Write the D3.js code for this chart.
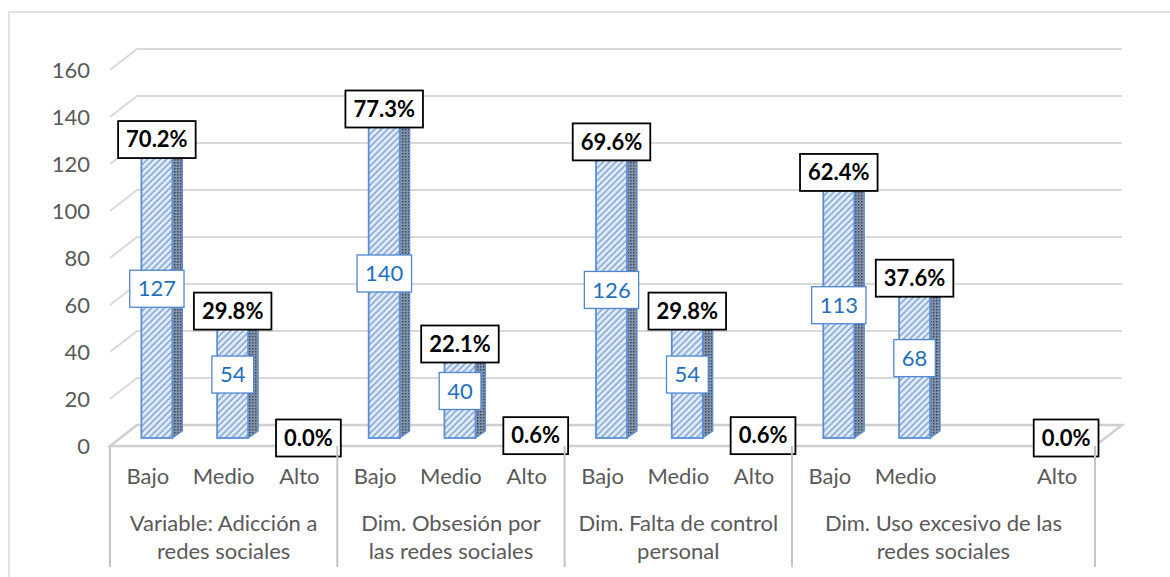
<!DOCTYPE html>
<meta charset="utf-8">
<style>
body { margin: 0; background: #fff; }
text { font-family: Lato, "Open Sans", sans-serif; }
.tick-label { fill: #595959; font-size: 22px; }
.cat-label { fill: #595959; font-size: 22px; }
.pct { font-weight: bold; font-size: 22px; fill: #000; }
.cnt { font-size: 22px; fill: #1f6fbf; }
</style>
<body>
<script src="https://d3js.org/d3.v7.min.js"></script>
<script>
// data
var groupLines = [
  ["Variable: Adicción a", "redes sociales"],
  ["Dim. Obsesión por", "las redes sociales"],
  ["Dim. Falta de control", "personal"],
  ["Dim. Uso excesivo de las", "redes sociales"]
];
var levels = [
  ["Bajo", "Medio", "Alto"],
  ["Bajo", "Medio", "Alto"],
  ["Bajo", "Medio", "Alto"],
  ["Bajo", "Medio", "", "Alto"]
];
var counts = [
  [127, 54, 0],
  [140, 40, 1],
  [126, 54, 1],
  [113, 68, null, 0]
];
var percents = [
  ["70.2%", "29.8%", "0.0%"],
  ["77.3%", "22.1%", "0.6%"],
  ["69.6%", "29.8%", "0.6%"],
  ["62.4%", "37.6%", null, "0.0%"]
];
var yTicks = [0, 20, 40, 60, 80, 100, 120, 140, 160];

// flatten to one row per category slot
var rows = [];
levels.forEach(function(lv, g) {
  lv.forEach(function(name, i) {
    rows.push({key: g + "-" + i, group: g, name: name, count: counts[g][i], pct: percents[g][i]});
  });
});

var W = 1170, H = 577;
var depthX = 27, depthY = 21;   // 3D wall offset
var barShiftX = 9, barShiftY = 8; // bars sit a bit inside the floor
var barW = 31, barDX = 10, barDY = 7;

var svg = d3.select("body").append("svg")
    .attr("width", W)
    .attr("height", H);

var defs = svg.append("defs");
var hatch = defs.append("pattern")
    .attr("id", "hatch")
    .attr("patternUnits", "userSpaceOnUse")
    .attr("width", 4.5).attr("height", 4.5)
    .attr("patternTransform", "rotate(45)");
hatch.append("rect").attr("width", 4.5).attr("height", 4.5).attr("fill", "#e2eaf6");
hatch.append("line").attr("x1", 1).attr("y1", 0).attr("x2", 1).attr("y2", 4.5)
    .attr("stroke", "#6f9ad3").attr("stroke-width", 1.3);

var dots = defs.append("pattern")
    .attr("id", "dots")
    .attr("patternUnits", "userSpaceOnUse")
    .attr("width", 3).attr("height", 3);
dots.append("rect").attr("width", 3).attr("height", 3).attr("fill", "#8593a8");
dots.append("rect").attr("width", 1.5).attr("height", 1.5).attr("fill", "#3a475c");

// outer frame
svg.append("rect")
    .attr("x", 9).attr("y", 12)
    .attr("width", W + 20).attr("height", H + 20)
    .attr("fill", "none")
    .attr("stroke", "#d9d9d9")
    .attr("stroke-width", 1.5);

// scales
var x = d3.scaleBand()
    .domain(rows.map(function(d) { return d.key; }))
    .range([110, 1095])
    .padding(0);

var y = d3.scaleLinear().domain([0, 160]).range([446, 70]);

var left = x.range()[0], right = x.range()[1];

// gridlines on the back + side wall
var grid = svg.append("g");
yTicks.forEach(function(v) {
  if (v === 0) return;
  grid.append("path")
      .attr("d", "M" + left + "," + y(v) + "L" + (left + depthX) + "," + (y(v) - depthY) +
                 "L" + (right + depthX) + "," + (y(v) - depthY))
      .attr("fill", "none")
      .attr("stroke", "#d9d9d9")
      .attr("stroke-width", 2);
});

// floor
svg.append("path")
    .attr("d", "M" + left + "," + y(0) + "L" + right + "," + y(0) +
               "L" + (right + depthX) + "," + (y(0) - depthY) +
               "L" + (left + depthX) + "," + (y(0) - depthY) + "Z")
    .attr("fill", "none")
    .attr("stroke", "#cfcfcf")
    .attr("stroke-width", 2.5);

// y tick labels
svg.append("g").selectAll("text")
  .data(yTicks)
  .enter().append("text")
    .attr("class", "tick-label")
    .attr("x", 90)
    .attr("y", function(d) { return y(d); })
    .attr("dy", "0.35em")
    .attr("text-anchor", "end")
    .text(function(d) { return d; });

// bars
var bars = rows.filter(function(d) { return d.count !== null; });
var base = y(0) - barShiftY;
function bx(d) { return x(d.key) + x.bandwidth() / 2 + barShiftX - barW / 2; }
function btop(d) { return y(d.count) - barShiftY; }

var bar = svg.append("g").selectAll("g")
  .data(bars.filter(function(d) { return d.count > 0; }))
  .enter().append("g");

bar.append("path") // side
    .attr("d", function(d) {
      var x1 = bx(d) + barW, t = btop(d);
      return "M" + x1 + "," + base + "L" + (x1 + barDX) + "," + (base - barDY) +
             "L" + (x1 + barDX) + "," + (t - barDY) + "L" + x1 + "," + t + "Z";
    })
    .attr("fill", "url(#dots)")
    .attr("stroke", "#5b8fd6")
    .attr("stroke-width", 1.2);

bar.append("path") // top
    .attr("d", function(d) {
      var x0 = bx(d), t = btop(d);
      return "M" + x0 + "," + t + "L" + (x0 + barDX) + "," + (t - barDY) +
             "L" + (x0 + barW + barDX) + "," + (t - barDY) + "L" + (x0 + barW) + "," + t + "Z";
    })
    .attr("fill", "url(#hatch)")
    .attr("stroke", "#5b8fd6")
    .attr("stroke-width", 1.2);

bar.append("rect") // front
    .attr("x", bx)
    .attr("y", btop)
    .attr("width", barW)
    .attr("height", function(d) { return base - btop(d); })
    .attr("fill", "url(#hatch)")
    .attr("stroke", "#5b8fd6")
    .attr("stroke-width", 1.8);

// label helper: text in a bordered box
function boxLabel(sel, cls, stroke, fn, cy) {
  var g = sel.append("g");
  var t = g.append("text")
      .attr("class", cls)
      .attr("x", function(d) { return bx(d) + barW / 2; })
      .attr("y", cy)
      .attr("dy", "0.35em")
      .attr("text-anchor", "middle")
      .text(fn);
  g.each(function(d) {
    var node = d3.select(this).select("text").node();
    var bb = node.getBBox();
    d3.select(this).insert("rect", "text")
        .attr("x", bb.x - 8)
        .attr("y", cy(d) - 18.5)
        .attr("width", bb.width + 16)
        .attr("height", 37)
        .attr("fill", "#fff")
        .attr("stroke", stroke)
        .attr("stroke-width", cls === "pct" ? 1.8 : 1.3);
  });
}

// count labels of the tiny Alto bars sit fully behind their % label, so skip them
var cntSel = svg.append("g").selectAll("g")
  .data(bars.filter(function(d) { return d.count > 1; })).enter().append("g");
boxLabel(cntSel, "cnt", "#4f86d0", function(d) { return d.count; },
         function(d) { return (base + btop(d)) / 2; });

var pctSel = svg.append("g").selectAll("g")
  .data(bars).enter().append("g");
boxLabel(pctSel, "pct", "#000", function(d) { return d.pct; },
         function(d) { return btop(d); });

// category axis
var axis = svg.append("g");
axis.selectAll("text.lv")
  .data(rows)
  .enter().append("text")
    .attr("class", "cat-label")
    .attr("x", function(d) { return x(d.key) + x.bandwidth() / 2; })
    .attr("y", 476)
    .attr("dy", "0.35em")
    .attr("text-anchor", "middle")
    .text(function(d) { return d.name; });

// group boundaries
var bounds = [];
var idx = 0;
levels.forEach(function(lv, g) {
  var k0 = rows[idx].key, k1 = rows[idx + lv.length - 1].key;
  bounds.push({g: g, x0: x(k0), x1: x(k1) + x.bandwidth()});
  idx += lv.length;
});

var seps = [bounds[0].x0].concat(bounds.map(function(b) { return b.x1; }));
axis.selectAll("line.sep")
  .data(seps)
  .enter().append("line")
    .attr("x1", function(d) { return d; })
    .attr("x2", function(d) { return d; })
    .attr("y1", y(0))
    .attr("y2", 567)
    .attr("stroke", "#c4c4c4")
    .attr("stroke-width", 2);

bounds.forEach(function(b) {
  var t = axis.append("text")
      .attr("class", "cat-label")
      .attr("text-anchor", "middle");
  groupLines[b.g].forEach(function(line, i) {
    t.append("tspan")
        .attr("x", (b.x0 + b.x1) / 2)
        .attr("y", 523 + i * 28)
        .attr("dy", "0.35em")
        .text(line);
  });
});
</script>
</body>
